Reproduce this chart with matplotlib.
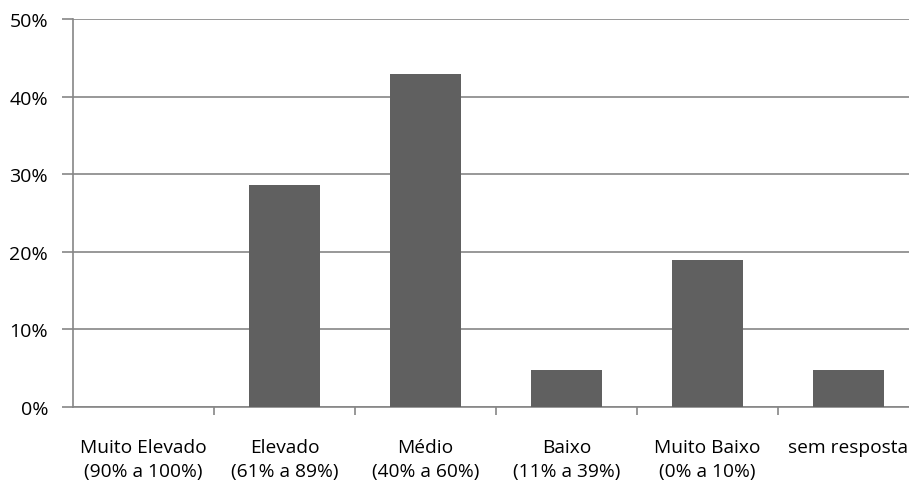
import matplotlib.pyplot as plt
from matplotlib.ticker import PercentFormatter

categories = [
    "Muito Elevado\n(90% a 100%)",
    "Elevado\n(61% a 89%)",
    "Médio\n(40% a 60%)",
    "Baixo\n(11% a 39%)",
    "Muito Baixo\n(0% a 10%)",
    "sem resposta",
]
values = [0.0, 28.6, 42.9, 4.8, 19.0, 4.8]
yticks = [0, 10, 20, 30, 40, 50]

plt.rcParams["font.family"] = ["Open Sans", "DejaVu Sans"]

W, H = 909, 485
fig = plt.figure(figsize=(W / 100, H / 100), dpi=100)
# axes run past the right edge like the original crop
ax = fig.add_axes([73 / W, (H - 408) / H, 846 / W, 388 / H])

grid_col = "#868686"
ax.bar(range(len(values)), values, width=0.5, color="#606060", zorder=3)

ax.set_xlim(-0.5, len(values) - 0.5)
ax.set_ylim(0, 50)
ax.set_yticks(yticks)
ax.yaxis.set_major_formatter(PercentFormatter(decimals=0))
ax.yaxis.grid(True, color=grid_col, linewidth=1.2)
ax.set_axisbelow(True)

ax.set_xticks([i + 0.5 for i in range(len(values) - 1)] + [len(values) - 0.5], minor=False)
ax.set_xticklabels([])
ax.set_xticks(range(len(values)), minor=True)
ax.set_xticklabels(categories, minor=True, fontsize=13.8, linespacing=1.45)
ax.tick_params(axis="x", which="minor", length=0, pad=22)
ax.tick_params(axis="x", which="major", length=6, color=grid_col, width=1.2)
ax.tick_params(axis="y", length=8, color=grid_col, width=1.2, labelsize=14, pad=10)

for side in ["top", "right"]:
    ax.spines[side].set_visible(False)
for side in ["left", "bottom"]:
    ax.spines[side].set_color(grid_col)
    ax.spines[side].set_linewidth(1.2)

fig.savefig("out.png", dpi=100)
